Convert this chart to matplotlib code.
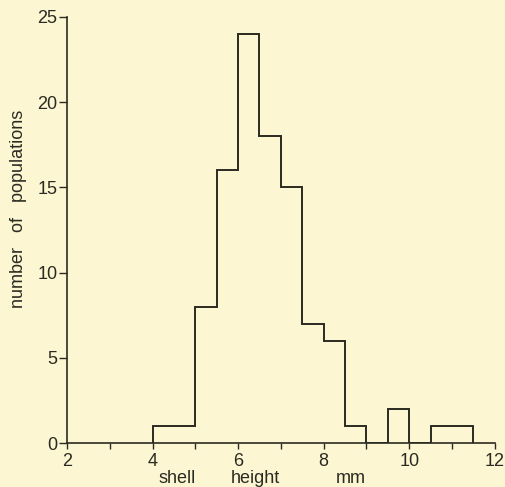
import matplotlib
matplotlib.use("Agg")
import matplotlib.pyplot as plt
import numpy as np

# histogram of shell heights, 0.5 mm bins
bin_edges = [4.0, 4.5, 5.0, 5.5, 6.0, 6.5, 7.0, 7.5, 8.0, 8.5, 9.0, 9.5, 10.0, 10.5, 11.0, 11.5]
counts = [1, 1, 8, 16, 24, 18, 15, 7, 6, 1, 0, 2, 0, 1, 1]

x_major = [2, 4, 6, 8, 10, 12]
x_minor = [3, 5, 7, 9, 11]
y_ticks = [0, 5, 10, 15, 20, 25]

xlabel_words = ["shell", "height", "mm"]
xlabel_pos = [0.257, 0.441, 0.664]

bg = "#fcf7d2"
ink = "#2b2a22"

plt.rcParams["font.family"] = ["Liberation Sans", "DejaVu Sans"]

fig = plt.figure(figsize=(5.05, 4.87), dpi=100, facecolor=bg)
ax = fig.add_axes([0.1327, 0.0903, 0.847, 0.875], facecolor=bg)

ax.stairs(counts, bin_edges, baseline=0, color=ink, linewidth=1.4)

ax.set_xlim(2, 12)
ax.set_ylim(0, 25)

ax.spines["top"].set_visible(False)
ax.spines["right"].set_visible(False)
for s in ["left", "bottom"]:
    ax.spines[s].set_color(ink)
    ax.spines[s].set_linewidth(1.2)

ax.set_xticks(x_major)
ax.set_xticks(x_minor, minor=True)
ax.set_yticks(y_ticks)
ax.tick_params(axis="x", which="both", direction="out", length=4, width=1, color=ink,
               labelsize=13, labelcolor=ink, pad=3)
ax.tick_params(axis="y", direction="out", length=6, width=1, color=ink,
               labelsize=13, labelcolor=ink, pad=1)

# x label words spread out like the original
for word, xp in zip(xlabel_words, xlabel_pos):
    ax.text(xp, -0.094, word, transform=ax.transAxes, ha="center", va="baseline",
            fontsize=13, color=ink)

ax.set_ylabel("number   of   populations", fontsize=13, color=ink)
ax.yaxis.set_label_coords(-0.094, 0.55)

fig.savefig("out.png", dpi=100, facecolor=bg)
